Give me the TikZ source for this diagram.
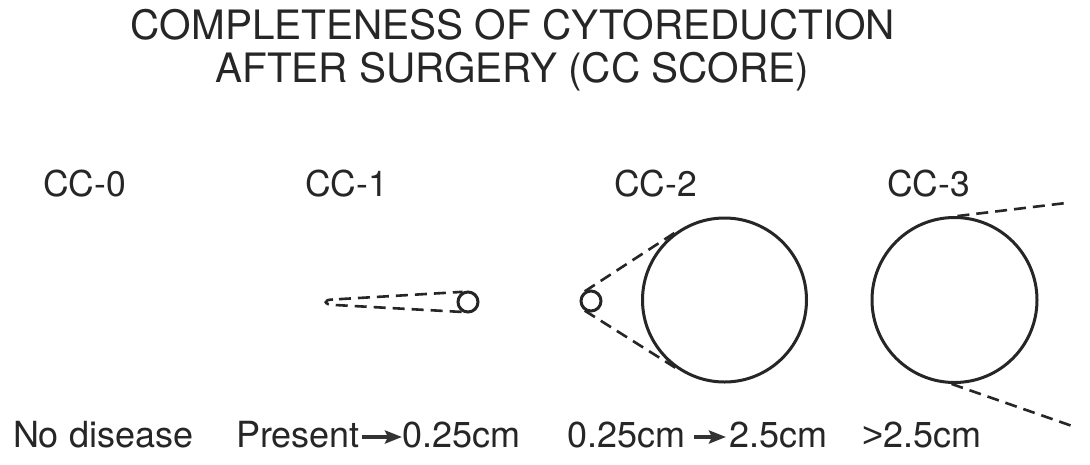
\documentclass[tikz,border=0pt]{standalone}
\usepackage{fontspec}
\setmainfont{TeX Gyre Heros}
\newfontfamily\gtfont{Liberation Sans}
\usetikzlibrary{arrows.meta}
\begin{document}
\begin{tikzpicture}[x=1pt,y=-1pt,
  txt/.style={inner sep=0pt, outer sep=0pt, text=black!85},
  titletxt/.style={txt, font=\fontsize{40.5}{48}\selectfont, anchor=base},
  cclab/.style={txt, font=\fontsize{35.5}{42}\selectfont, anchor=base west},
  sizelab/.style={txt, font=\fontsize{36}{42}\selectfont, anchor=base west},
  mass/.style={circle, draw=black!85, line width=3pt, inner sep=0pt},
  cone/.style={draw=black!85, line width=2.6pt, dash pattern=on 12pt off 7pt},
  labarrow/.style={draw=black!80, line width=3.6pt, -{Stealth[length=17pt,width=13pt,inset=3pt]}}
]
\useasboundingbox (0,0) rectangle (1090,464);
\fill[white] (0,0) rectangle (1090,464);
% title
\node[titletxt] (t1) at (513,39.5) {COMPLETENESS OF CYTOREDUCTION};
\node[titletxt] (t2) at (512,82) {AFTER SURGERY (CC SCORE)};
% score labels
\node[cclab] (cc0) at (43,196) {CC-0};
\node[cclab] (cc1) at (305,196) {CC-1};
\node[cclab] (cc2) at (614,196) {CC-2};
\node[cclab] (cc3) at (887,196) {CC-3};
% CC-1
\node[mass, minimum size=20pt] (m1) at (468,302) {};
\coordinate (tipa) at (333,299.5);
\coordinate (tipb) at (335,305);
\draw[cone] (tipa) .. controls (323,299.5) and (323,305) .. (tipb) -- (m1.240);
\draw[cone, dash phase=-6pt] (tipa) -- (m1.118);
% CC-2
\node[mass, minimum size=20pt] (s2) at (591,301) {};
\node[mass, minimum size=164pt] (b2) at (724.5,300) {};
\draw[cone] (s2.123) -- (b2.123);
\draw[cone] (s2.237) -- (b2.237);
% CC-3
\node[mass, minimum size=165pt] (m3) at (954.5,300) {};
\coordinate (u3) at (1066,203);
\coordinate (l3) at (1075,427);
\draw[cone] (m3.88) -- (u3);
\draw[cone] (m3.268) -- (l3);
% size labels
\node[sizelab] (nd) at (13,447) {No disease};
\node[sizelab] (pr) at (236,447) {Present};
\node[sizelab] (pa) at (402,447) {0.25cm};
\draw[labarrow] ([yshift=10pt,xshift=2pt]pr.base east) -- ([yshift=10pt]pa.base west);
\node[sizelab] (qa) at (567,447) {0.25cm};
\node[sizelab] (qb) at (729,447) {2.5cm};
\draw[labarrow] ([yshift=10pt,xshift=9pt]qa.base east) -- ([yshift=10pt,xshift=-3pt]qb.base west);
\node[sizelab] (ra) at (862,447) {{\gtfont >}2.5cm};
\end{tikzpicture}
\end{document}
